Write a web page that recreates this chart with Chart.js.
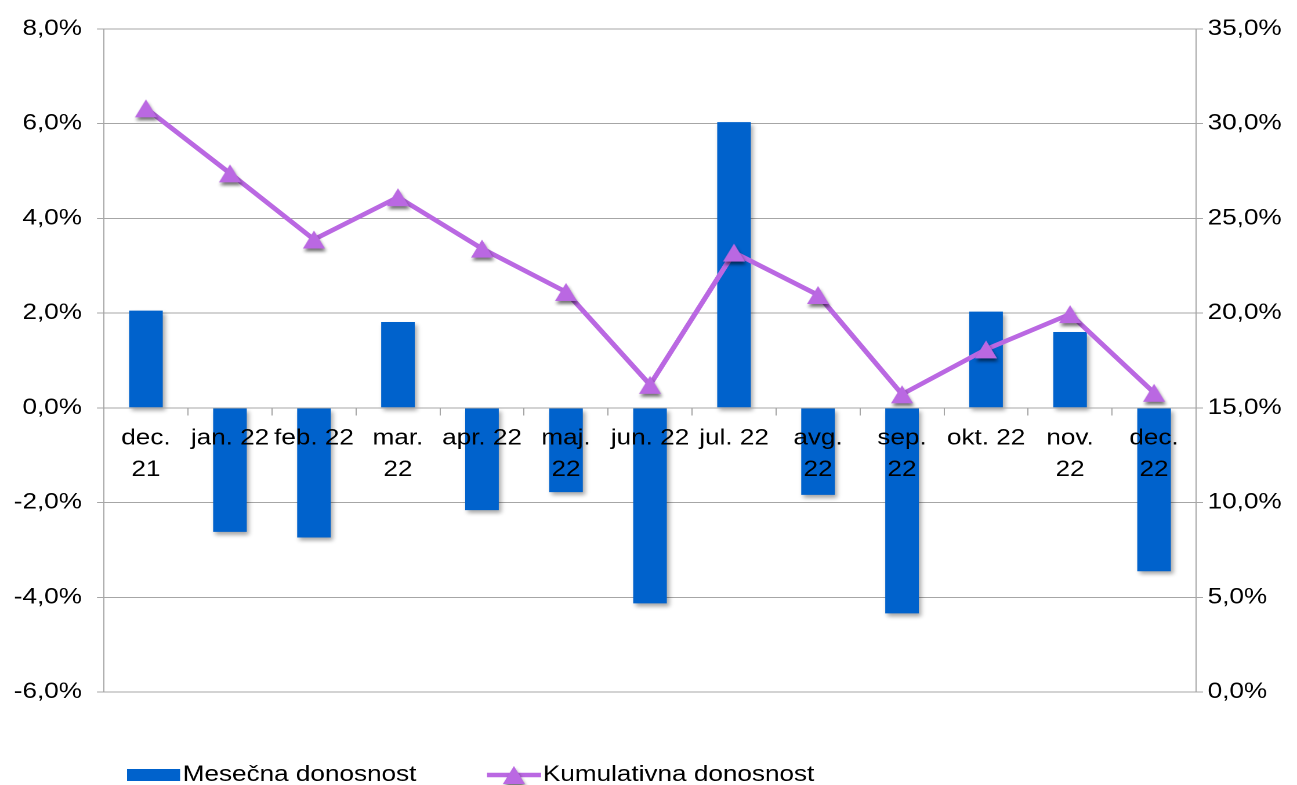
<!DOCTYPE html>
<html lang="sl">
<head>
<meta charset="UTF-8">
<title>Mesečna in kumulativna donosnost</title>
<script src="https://cdn.jsdelivr.net/npm/chart.js"></script>
<style>
  html, body { margin: 0; padding: 0; background: #fff; overflow: hidden; }
  /* graf je v Excelu nekoliko raztegnjen v širino */
  #wrap { width: 1118px; height: 785px; position: relative; transform: scaleX(1.1601); transform-origin: 0 0; }
</style>
</head>
<body>
<div id="wrap"><canvas id="myChart"></canvas></div>
<script>
// kategorije (meseci) - dvovrstične oznake kot v Excelu
const months = [['dec.', '21'], 'jan. 22', 'feb. 22', ['mar.', '22'], 'apr. 22', ['maj.', '22'],
                'jun. 22', 'jul. 22', ['avg.', '22'], ['sep.', '22'], 'okt. 22', ['nov.', '22'], ['dec.', '22']];
// mesečna donosnost v %
const monthly = [2.05, -2.62, -2.74, 1.81, -2.16, -1.78, -4.13, 6.03, -1.84, -4.34, 2.03, 1.6, -3.45];
// kumulativna donosnost v %
const cumulative = [30.8, 27.37, 23.88, 26.11, 23.4, 21.11, 16.21, 23.19, 20.95, 15.71, 18.08, 19.94, 15.79];

const BAR_COLOR = '#0062CC';
const LINE_COLOR = '#BA68E2';
const GRID_COLOR = '#a6a6a6';
const FONT = { family: 'Liberation Sans, Arial, sans-serif', size: 22.5, lineHeight: 1.4 };
const DPR = 2;

// trikotni marker s senco (narisan v dvojni ločljivosti)
function makeMarker(done) {
    const c = document.createElement('canvas');
    c.width = 34 * DPR; c.height = 34 * DPR;
    const g = c.getContext('2d');
    g.scale(DPR, DPR);
    g.shadowColor = 'rgba(0,0,0,0.55)';
    g.shadowBlur = 3 * DPR;
    g.shadowOffsetX = 1 * DPR;
    g.shadowOffsetY = 3 * DPR;
    g.fillStyle = LINE_COLOR;
    g.beginPath();
    g.moveTo(17, 8);
    g.lineTo(26.5, 26);
    g.lineTo(7.5, 26);
    g.closePath();
    g.fill();
    const img = new Image(34, 34);
    img.onload = () => done(img);
    img.src = c.toDataURL();
}

function pct(v) {
    return v.toFixed(1).replace('.', ',') + '%';
}

// senca pod stolpci
const barShadow = {
    id: 'barShadow',
    beforeDatasetDraw(chart, args) {
        if (chart.data.datasets[args.index].type !== 'bar') return;
        const ctx = chart.ctx;
        ctx.save();
        ctx.shadowColor = 'rgba(0,0,0,0.35)';
        ctx.shadowBlur = 4 * DPR;
        ctx.shadowOffsetX = 2 * DPR;
        ctx.shadowOffsetY = 3 * DPR;
    },
    afterDatasetDraw(chart, args) {
        if (chart.data.datasets[args.index].type !== 'bar') return;
        chart.ctx.restore();
    }
};

function drawChart(marker) {
    // legenda spodaj
    const bottomLegend = {
        id: 'bottomLegend',
        afterDraw(chart) {
            const ctx = chart.ctx;
            const ds = chart.data.datasets;
            const y = 775;
            ctx.save();
            ctx.font = FONT.size + 'px ' + FONT.family;
            ctx.textBaseline = 'middle';

            ctx.fillStyle = ds[0].backgroundColor;
            ctx.fillRect(109.5, y - 6, 45.7, 12);
            ctx.fillStyle = '#000';
            ctx.fillText(ds[0].label, 157.5, y);

            ctx.strokeStyle = ds[1].borderColor;
            ctx.lineWidth = 4.5;
            ctx.beginPath();
            ctx.moveTo(419.8, y);
            ctx.lineTo(466.4, y);
            ctx.stroke();
            ctx.drawImage(marker, 443 - 17, y - 17, 34, 34);
            ctx.fillText(ds[1].label, 468, y);
            ctx.restore();
        }
    };

    const ctx = document.getElementById('myChart').getContext('2d');
    new Chart(ctx, {
        data: {
            labels: months,
            datasets: [{
                type: 'bar',
                label: 'Mesečna donosnost',
                data: monthly,
                backgroundColor: BAR_COLOR,
                yAxisID: 'y',
                categoryPercentage: 0.4,
                barPercentage: 1,
                order: 2
            }, {
                type: 'line',
                label: 'Kumulativna donosnost',
                data: cumulative,
                borderColor: LINE_COLOR,
                backgroundColor: LINE_COLOR,
                borderWidth: 4.5,
                pointStyle: marker,
                pointRadius: 10,
                yAxisID: 'y1',
                fill: false,
                tension: 0,
                order: 1
            }]
        },
        options: {
            responsive: true,
            maintainAspectRatio: false,
            animation: false,
            devicePixelRatio: DPR,
            layout: { padding: { top: 28, bottom: 93, left: 0, right: 0 } },
            plugins: {
                legend: { display: false },
                tooltip: { enabled: false }
            },
            scales: {
                x: {
                    position: { y: 0 },
                    offset: true,
                    grid: { display: true, drawOnChartArea: false, offset: true, tickLength: 7, color: GRID_COLOR, z: 1 },
                    border: { display: true, color: GRID_COLOR, z: 1 },
                    ticks: { color: '#000', font: FONT, padding: 8, maxRotation: 0, autoSkip: false, z: 2 }
                },
                y: {
                    position: 'left',
                    min: -6,
                    max: 8,
                    afterFit(scale) { scale.width = 89.6; },
                    grid: { color: GRID_COLOR, tickLength: 6 },
                    border: { display: true, color: GRID_COLOR },
                    ticks: { stepSize: 2, color: '#000', font: FONT, padding: 13, callback: v => pct(v) }
                },
                y1: {
                    position: 'right',
                    min: 0,
                    max: 35,
                    afterFit(scale) { scale.width = 87; },
                    grid: { drawOnChartArea: false, color: GRID_COLOR, tickLength: 6 },
                    border: { display: true, color: GRID_COLOR },
                    ticks: { stepSize: 5, color: '#000', font: FONT, padding: 4, callback: v => pct(v) }
                }
            }
        },
        plugins: [barShadow, bottomLegend]
    });
}

makeMarker(drawChart);
</script>
</body>
</html>
